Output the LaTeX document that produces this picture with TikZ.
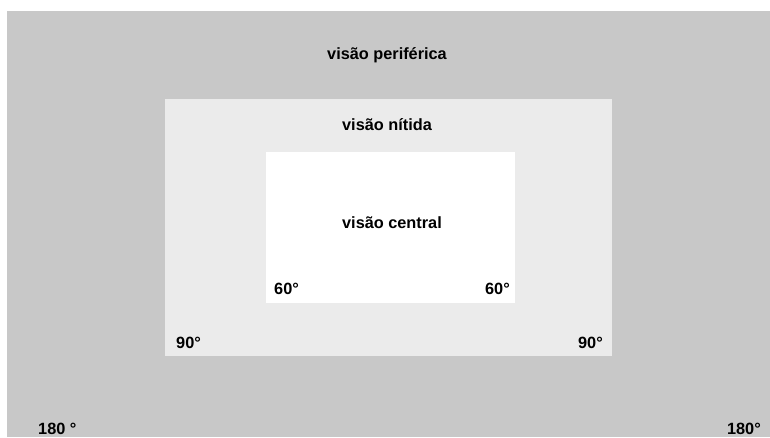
\documentclass[tikz,border=0pt]{standalone}
\usepackage{fontspec}
\setmainfont{Liberation Sans}
\definecolor{periph}{HTML}{C8C8C8}
\definecolor{sharp}{HTML}{EBEBEB}
\begin{document}
\begin{tikzpicture}[x=1pt,y=-1pt,
  lbl/.style={inner sep=0pt,font=\fontsize{16.3}{19}\selectfont\bfseries,text=black}]
\useasboundingbox (0,0) rectangle (770,437);
\fill[white] (0,0) rectangle (770,437);
% peripheral field
\fill[periph] (7,11) rectangle (770,437);
% sharp-vision field
\fill[sharp] (165,99) rectangle (612,356);
% central-vision field
\fill[white] (266,152) rectangle (515,303);
% labels
\node[lbl,anchor=base] (periferica) at (387,59) {visão periférica};
\node[lbl,anchor=base] (nitida) at (387,130) {visão nítida};
\node[lbl,anchor=base] (central) at (392,228) {visão central};
\node[lbl,anchor=base west] (sixtyL) at (274,294) {60°};
\node[lbl,anchor=base east] (sixtyR) at (510,294) {60°};
\node[lbl,anchor=base west] (ninetyL) at (176,348) {90°};
\node[lbl,anchor=base east] (ninetyR) at (603,348) {90°};
\node[lbl,anchor=base west] (oneeightyL) at (38,434.5) {180 °};
\node[lbl,anchor=base east] (oneeightyR) at (761,434.5) {180°};
\end{tikzpicture}
\end{document}
